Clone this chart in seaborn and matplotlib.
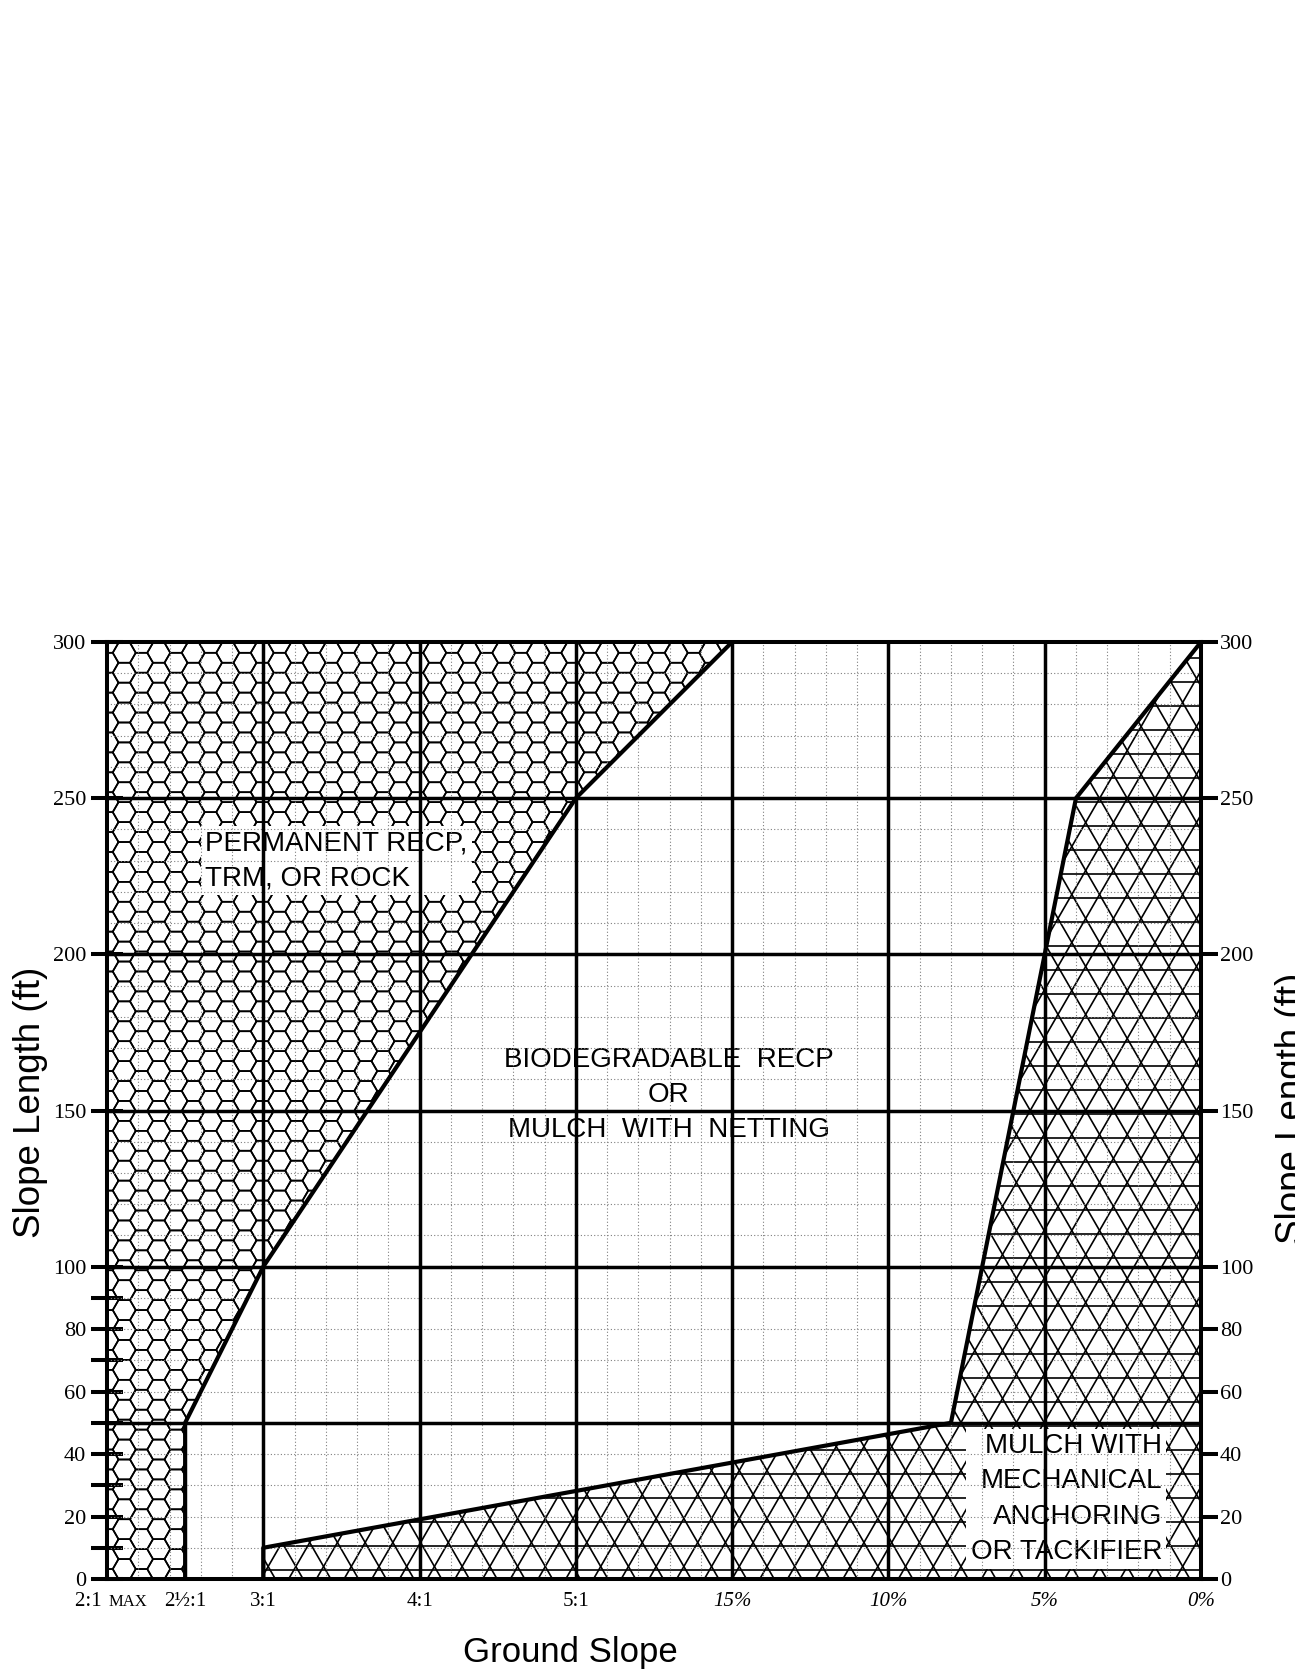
import numpy as np
import pandas as pd
import matplotlib
matplotlib.use('Agg')
from matplotlib import pyplot as plt
from matplotlib.patches import Polygon
from matplotlib.collections import LineCollection
import seaborn as sns

# ground slope categories (ordinal position along x)
slope_labels = ['2:1 MAX', '2\u00bd:1', '3:1', '4:1', '5:1', '15%', '10%', '5%', '0%']
slope_pos = [0, 0.5, 1, 2, 3, 4, 5, 6, 7]
slope_lines = [1, 2, 3, 4, 5, 6]

# slope length (ft)
length_labels = [0, 20, 40, 60, 80, 100, 150, 200, 250, 300]
length_marks = [10, 30, 50, 70, 90]
length_lines = [50, 100, 150, 200, 250]

# zone boundaries
perm_x = [0.5, 0.5, 1, 3, 4]
perm_y = [0, 50, 100, 250, 300]
mulch_x = [1, 1, 5.4, 6.2, 7]
mulch_y = [0, 10, 50, 250, 300]

zone_text = ['PERMANENT RECP,\nTRM, OR ROCK',
             'BIODEGRADABLE  RECP\nOR\nMULCH  WITH  NETTING',
             'MULCH WITH\nMECHANICAL\nANCHORING\nOR TACKIFIER']

W, H = 1295, 1678
AX = [107 / W, 99 / H, 1094 / W, 937 / H]
sx = AX[2] * W / 7      # px per slope unit
sy = AX[3] * H / 300    # px per foot


def hex_pattern(x1, side=11.5):
    # honeycomb texture, built in pixel space so the cells stay regular
    segs = []
    dx, dy = 1.5 * side, np.sqrt(3) * side
    ang = np.arange(7) * np.pi / 3
    for i in range(int(x1 * sx / dx) + 2):
        for j in range(-1, int(300 * sy / dy) + 2):
            cx, cy = i * dx, (j + 0.5 * (i % 2)) * dy
            segs.append(np.column_stack([(cx + side * np.cos(ang)) / sx,
                                         (cy + side * np.sin(ang)) / sy]))
    return segs


def tri_pattern(x0, step=24, off=9):
    # triangle lattice texture
    a = 2 * step / np.sqrt(3)
    w, h = (7 - x0) * sx, 300 * sy
    segs = [[(x0, (off + k * step) / sy), (7, (off + k * step) / sy)]
            for k in range(int(h / step) + 1)]
    span = h / np.sqrt(3)
    for c in np.arange(-span - a, w + a, a):
        segs.append([(x0 + c / sx, 0), (x0 + (c + span) / sx, 300)])
        segs.append([(x0 + (c + span) / sx, 0), (x0 + c / sx, 300)])
    return segs


sns.set_style('white')
plt.rcParams['font.family'] = ['Liberation Sans', 'DejaVu Sans']
plt.rcParams.update({'text.color': 'black', 'axes.labelcolor': 'black',
                     'xtick.color': 'black', 'ytick.color': 'black'})

fig = plt.figure(figsize=(W / 100, H / 100), dpi=100)
ax = fig.add_axes(AX)

perm_zone = Polygon([(0, 0)] + list(zip(perm_x, perm_y)) + [(0, 300)], fc='none', ec='none')
mulch_zone = Polygon(list(zip(mulch_x, mulch_y)) + [(7, 0)], fc='none', ec='none')
for zone, segs in [(perm_zone, hex_pattern(4.2)), (mulch_zone, tri_pattern(0.9))]:
    ax.add_patch(zone)
    lc = LineCollection(segs, colors='black', linewidths=1.2, zorder=1)
    ax.add_collection(lc, autolim=False)
    lc.set_clip_path(zone)

box = dict(facecolor='white', edgecolor='none', pad=3)
ax.text(0.627, 230, zone_text[0], ha='left', va='center', fontsize=20,
        linespacing=1.46, bbox=box, zorder=2)
ax.text(3.593, 155, zone_text[1], ha='center', va='center', multialignment='center',
        fontsize=20, linespacing=1.46, zorder=2)
ax.text(6.751, 25.6, zone_text[2], ha='right', va='center', multialignment='right',
        fontsize=20, linespacing=1.46, bbox=box, zorder=2)

ax.vlines(slope_lines, 0, 300, colors='black', linewidth=2.5, zorder=3)
ax.hlines(length_lines, 0, 7, colors='black', linewidth=2.5, zorder=3)

bounds = pd.DataFrame({'slope': perm_x + mulch_x,
                       'length': perm_y + mulch_y,
                       'zone': ['perm'] * len(perm_x) + ['mulch'] * len(mulch_x)})
sns.lineplot(data=bounds, x='slope', y='length', units='zone', estimator=None, sort=False,
             color='black', linewidth=3, ax=ax, zorder=4)

ax.set_xlim(0, 7)
ax.set_ylim(0, 300)

# dotted minor grid
ax.set_xticks(np.arange(0, 7.01, 0.2), minor=True)
ax.set_yticks(np.arange(0, 301, 10), minor=True)
ax.xaxis.remove_overlapping_locs = False
ax.yaxis.remove_overlapping_locs = False
ax.grid(False)
ax.grid(which='minor', color='#808080', linestyle=(0, (1, 2)), linewidth=0.8)
ax.set_axisbelow(False)

# first label: "2:1" then a small-caps style "MAX"
first, small = slope_labels[0].split(' ')
ax.set_xticks(slope_pos, [first + ' '] + slope_labels[1:])
left_ticks = sorted(length_labels + length_marks)
ax.set_yticks(left_ticks, [str(v) if v in length_labels else '' for v in left_ticks])
ax.tick_params(axis='x', which='both', length=0, pad=9, labelsize=15)
ax.tick_params(axis='y', which='major', direction='inout', length=23, width=2.9,
               labelsize=16, pad=3.4, left=True)
ax.tick_params(axis='y', which='minor', length=0)
for lab in ax.get_xticklabels() + ax.get_yticklabels():
    lab.set_fontfamily('Liberation Serif')
    if lab.get_text().endswith('%'):
        lab.set_fontstyle('italic')
ax.get_xticklabels()[0].set_horizontalalignment('right')
ax.annotate(small, xy=(slope_pos[0], 0), xycoords=('data', 'axes fraction'),
            xytext=(1, -19.2), textcoords='offset points', ha='left', va='baseline',
            fontsize=12, fontfamily='Liberation Serif', annotation_clip=False)

for s in ax.spines.values():
    s.set_linewidth(2.9)
    s.set_color('black')
    s.set_zorder(5)

ax.set_xlabel('Ground Slope', fontsize=25)
ax.xaxis.set_label_coords(0.424, -0.061)
ax.set_ylabel('Slope Length (ft)', fontsize=26.5)
ax.yaxis.set_label_coords(-0.054, 0.509)

tw = ax.twinx()
tw.set_ylim(0, 300)
tw.set_yticks(length_labels)
tw.grid(False)
tw.tick_params(axis='y', direction='out', length=12, width=2.9, labelsize=16, pad=1.5, right=True)
for lab in tw.get_yticklabels():
    lab.set_fontfamily('Liberation Serif')
for s in tw.spines.values():
    s.set_visible(False)
tw.set_ylabel('Slope Length (ft)', fontsize=26.5)
tw.yaxis.set_label_coords(1.068, 0.502)

fig.savefig('out.png', dpi=100)
